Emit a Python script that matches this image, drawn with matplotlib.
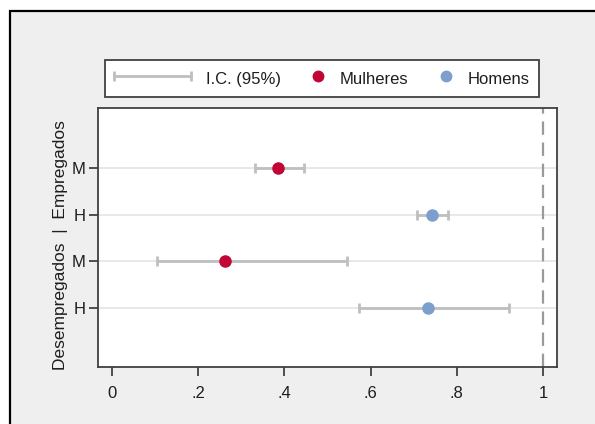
import matplotlib
matplotlib.use("Agg")
import numpy as np
import matplotlib.pyplot as plt
from matplotlib.patches import Rectangle
from matplotlib.lines import Line2D
from matplotlib.legend_handler import HandlerLine2D

plt.rcParams['font.family'] = ['Liberation Sans', 'DejaVu Sans']

# Data (y = 1..4 from bottom to top)
tick_labels = ["H", "M", "H", "M"]
groups = ["Desempregados", "Desempregados", "Empregados", "Empregados"]
sex = ["Homens", "Mulheres", "Homens", "Mulheres"]
estimate = [0.733, 0.262, 0.742, 0.385]
ci_low = [0.573, 0.104, 0.708, 0.332]
ci_high = [0.921, 0.545, 0.780, 0.445]
xticks = [0, 0.2, 0.4, 0.6, 0.8, 1.0]
xtick_labels = ["0", ".2", ".4", ".6", ".8", "1"]
legend_labels = ["I.C. (95%)", "Mulheres", "Homens"]

red = "#c10534"
blue = "#7d9fce"
ci_grey = "#bfbfbf"
txt = "#1e1e1e"

W, H = 595, 424
fig = plt.figure(figsize=(W / 100, H / 100), dpi=100, facecolor="white")

# outer grey frame
fig.patches.append(Rectangle((10 / W, -0.1), 1.2, 1 - 11 / H + 0.1,
                             transform=fig.transFigure, facecolor="#efefef",
                             edgecolor="black", linewidth=1.6, zorder=-10))

ax = fig.add_axes([98 / W, 1 - 367 / H, (557 - 98) / W, (367 - 108) / H])
ax.set_facecolor("white")

ypos = [1, 2, 3, 4]
for y in ypos:
    ax.axhline(y, color="#e4e4e4", lw=1.2, zorder=0)

ax.axvline(1.0, color="#9a9a9a", lw=1.6, dashes=(6, 3.5), zorder=1)

xerr = [[e - l for e, l in zip(estimate, ci_low)],
        [h - e for e, h in zip(estimate, ci_high)]]
ax.errorbar(estimate, ypos, xerr=xerr, fmt="none", ecolor=ci_grey,
            elinewidth=2.0, capsize=3.8, capthick=2.0, zorder=2)

colors = [blue if s == "Homens" else red for s in sex]
for xv, yv, c in zip(estimate, ypos, colors):
    ax.plot([xv], [yv], "o", color=c, ms=8, mec=c, zorder=3)

ax.set_xlim(-0.0325, 1.0325)
ax.set_ylim(-0.26, 5.28)
ax.set_xticks(xticks)
ax.set_xticklabels(xtick_labels)
ax.set_yticks(ypos)
ax.set_yticklabels(tick_labels)
ax.tick_params(axis="both", direction="out", length=6.5, width=1.2,
               color="#333333", labelsize=12, labelcolor=txt)
ax.tick_params(axis="x", pad=7)
ax.tick_params(axis="y", pad=2.5)
for sp in ax.spines.values():
    sp.set_color("#404040")
    sp.set_linewidth(1.3)

ax.set_ylabel("Desempregados  |  Empregados", fontsize=12.5, color=txt)
ax.yaxis.set_label_coords(-30 / (557 - 98), 0.47)


# legend
class RightMarker(HandlerLine2D):
    def get_xdata(self, legend, xdescent, ydescent, width, height, fontsize):
        x = -xdescent + width - 5
        return np.array([x, x]), np.array([x])


h_ci = Line2D([], [], color=ci_grey, lw=2.0, marker="|", ms=7.5, mew=2.0)
h_m = Line2D([], [], color=red, marker="o", ms=7.5, ls="none")
h_h = Line2D([], [], color=blue, marker="o", ms=7.5, ls="none")

leg = fig.legend([h_ci, h_m, h_h], legend_labels,
                 loc="upper left", bbox_to_anchor=(105 / W, 1 - 60 / H),
                 ncol=3, frameon=True, fancybox=False,
                 edgecolor="#404040", facecolor="white", framealpha=1,
                 fontsize=12, borderaxespad=0, handlelength=4.6,
                 handleheight=1.3,
                 handletextpad=0.9, borderpad=0.55, columnspacing=-1.95,
                 labelcolor=txt,
                 handler_map={h_ci: HandlerLine2D(numpoints=2, marker_pad=0),
                              h_m: RightMarker(), h_h: RightMarker()})
leg.get_frame().set_linewidth(1.3)

fig.savefig("out.png", dpi=100, facecolor="white")
